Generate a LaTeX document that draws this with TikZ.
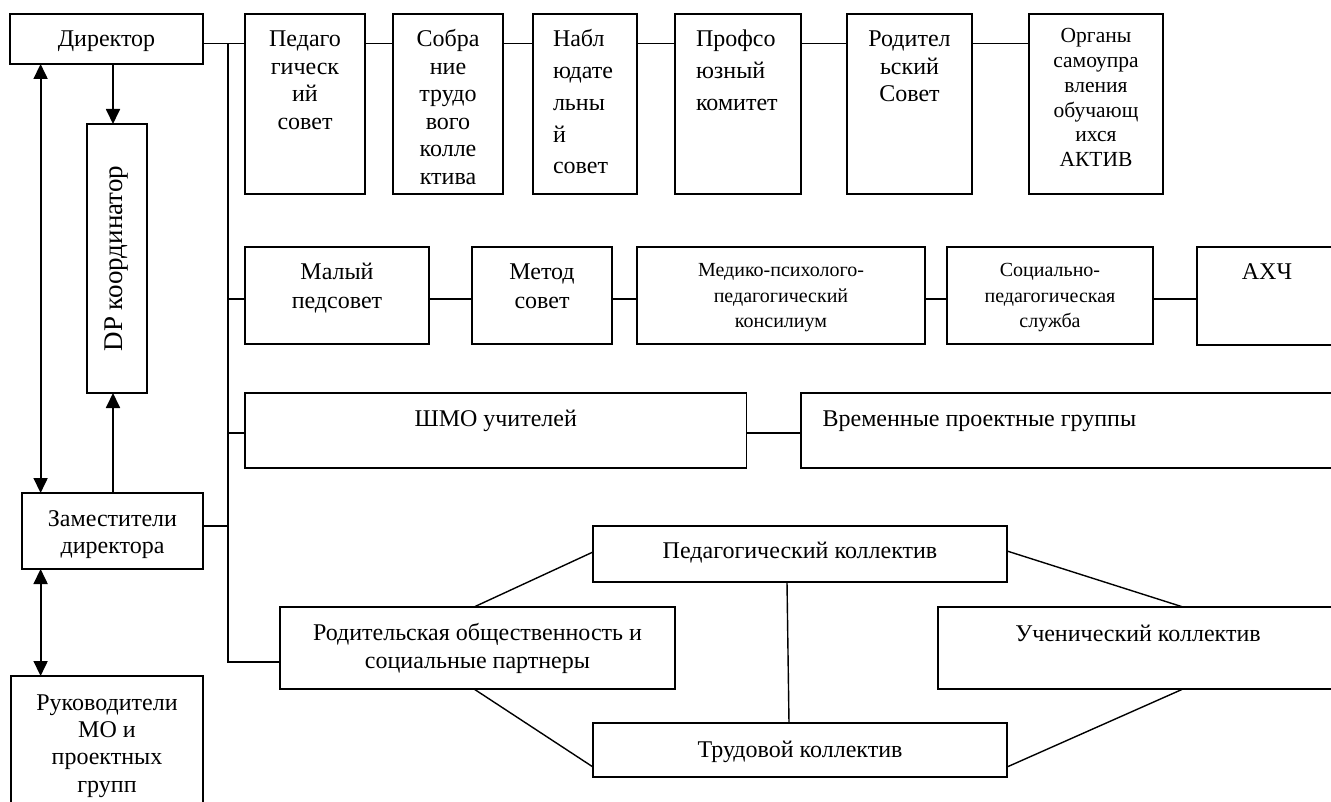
\documentclass[tikz,border=0pt]{standalone}
\usepackage{fontspec}
\setmainfont{Liberation Serif}
\usetikzlibrary{arrows.meta}
\newcommand{\bt}[5]{\parbox[c][#1][t]{#2}{#4\rule{0pt}{#3}#5}}
\tikzset{
  bx/.style={draw, line width=1.8pt, inner sep=0pt, outer sep=0pt, fill=white,
    font=\fontsize{24pt}{27.5pt}\selectfont},
  ln/.style={line width=1.8pt},
  dl/.style={line width=1.4pt},
  arr/.style={line width=1.8pt, -{Triangle[length=15pt,width=14pt]}},
  arrb/.style={line width=1.8pt, {Triangle[length=15pt,width=14pt]}-{Triangle[length=15pt,width=14pt]}},
}
\begin{document}
\begin{tikzpicture}[x=1pt,y=-1pt]
\useasboundingbox (0,0) rectangle (1331,802);
\clip (0,0) rectangle (1331,802);
\fill[white] (0,0) rectangle (1331,802);
% top row
\node[bx] (dir) at (106.5,39) {\bt{50pt}{193pt}{33pt}{\centering}{Директор}};
\node[bx] (ps) at (305,104) {\bt{180pt}{120pt}{33pt}{\centering}{Педаго\\гическ\\ий\\совет}};
\node[bx] (sob) at (448,104) {\bt{180pt}{110pt}{33pt}{\centering}{Собра\\ние\\трудо\\вого\\колле\\ктива}};
\node[bx] (nab) at (585,104) {\bt{180pt}{104pt}{33pt}{\raggedright\leftskip=20pt\fontsize{24pt}{31.7pt}\selectfont}{Набл\\юдате\\льны\\й\\совет}};
\node[bx] (prof) at (738,104) {\bt{180pt}{126pt}{33pt}{\raggedright\leftskip=21pt\fontsize{24pt}{31.7pt}\selectfont}{Профсо\\юзный\\комитет}};
\node[bx] (rod) at (909.5,104) {\bt{180pt}{125pt}{33pt}{\centering}{Родител\\ьский\\Совет}};
\node[bx] (org) at (1096,104) {\bt{180pt}{134pt}{29pt}{\centering\fontsize{21.5pt}{24.7pt}\selectfont}{Органы\\самоупра\\вления\\обучающ\\ихся\\АКТИВ}};
% second row
\node[bx] (mal) at (337,295.5) {\bt{97pt}{184pt}{33pt}{\centering\fontsize{24pt}{28pt}\selectfont}{Малый\\педсовет}};
\node[bx] (met) at (542,295.5) {\bt{97pt}{140pt}{33pt}{\centering\fontsize{24pt}{28pt}\selectfont}{Метод\\совет}};
\node[bx] (med) at (781,295.5) {\bt{97pt}{288pt}{30pt}{\centering\fontsize{20pt}{25.5pt}\selectfont}{Медико-психолого-\\педагогический\\консилиум}};
\node[bx] (soc) at (1050,295.5) {\bt{97pt}{206pt}{30pt}{\centering\fontsize{20pt}{25.5pt}\selectfont}{Социально-\\педагогическая\\служба}};
\node[bx] (axch) at (1267,296) {\bt{98pt}{140pt}{33pt}{\centering}{АХЧ}};
% third row
\node[bx] (shmo) at (495.75,430.5) {\bt{75pt}{501.5pt}{33pt}{\centering}{ШМО учителей}};
\node[bx] (vrem) at (1081,430.5) {\bt{75pt}{560pt}{33pt}{\raggedright\leftskip=21.6pt}{Временные проектные группы}};
% left column
\node[bx, minimum width=60pt, minimum height=269pt] (dp) at (117,258.5) {\rotatebox{90}{\fontsize{27pt}{30pt}\selectfont DP координатор}};
\node[bx] (zam) at (112.5,531) {\bt{76pt}{181pt}{33pt}{\centering\fontsize{24pt}{27pt}\selectfont}{Заместители\\директора}};
\node[bx] (ruk) at (107,758) {\bt{164pt}{192pt}{34pt}{\centering\fontsize{24pt}{27.4pt}\selectfont}{Руководители\\МО и\\проектных\\групп}};
% bottom group
\node[bx] (rp) at (477.5,648) {\bt{82pt}{395pt}{33pt}{\centering\fontsize{24pt}{28pt}\selectfont}{Родительская общественность и\\социальные партнеры}};
\node[bx] (pk) at (800,554) {\bt{56pt}{414pt}{32pt}{\centering}{Педагогический коллектив}};
\node[bx] (tk) at (800,750) {\bt{54pt}{414pt}{34pt}{\centering}{Трудовой коллектив}};
\node[bx] (uk) at (1138,648) {\bt{82pt}{400pt}{34pt}{\centering}{Ученический коллектив}};
% bus
\coordinate (b0) at (228,43.5);
\coordinate (r2) at (228,299);
\coordinate (r3) at (228,433);
\coordinate (r4) at (228,526);
\coordinate (b4) at (228,662);
\draw[ln] (dir.east |- b0) -- (ps.west |- b0);
\draw[ln] (b0) -- (b4) -- (rp.west |- b4);
\draw[ln] (ps.east |- b0) -- (sob.west |- b0);
\draw[ln] (sob.east |- b0) -- (nab.west |- b0);
\draw[ln] (nab.east |- b0) -- (prof.west |- b0);
\draw[ln] (prof.east |- b0) -- (rod.west |- b0);
\draw[ln] (rod.east |- b0) -- (org.west |- b0);
\draw[ln] (r2) -- (mal.west |- r2);
\draw[ln] (mal.east |- r2) -- (met.west |- r2);
\draw[ln] (met.east |- r2) -- (med.west |- r2);
\draw[ln] (med.east |- r2) -- (soc.west |- r2);
\draw[ln] (soc.east |- r2) -- (axch.west |- r2);
\draw[ln] (r3) -- (shmo.west |- r3);
\draw[ln] (shmo.east |- r3) -- (vrem.west |- r3);
\draw[ln] (zam.east |- r4) -- (r4);
% arrows
\coordinate (a1) at (113,0);
\coordinate (a2) at (40.6,0);
\draw[arr] (dir.south -| a1) -- (dp.north -| a1);
\draw[arr] (zam.north -| a1) -- (dp.south -| a1);
\draw[arrb] (dir.south -| a2) -- (zam.north -| a2);
\draw[arrb] (zam.south -| a2) -- (ruk.north -| a2);
% bottom connectors
\draw[dl] ([xshift=-3.5pt]rp.north) -- ([yshift=2pt]pk.west);
\draw[dl] ([xshift=-3.5pt]rp.south) -- ([yshift=-17pt]tk.west);
\draw[dl] ([xshift=-13pt]pk.south) -- ([xshift=-11pt]tk.north);
\draw[dl] ([yshift=3pt]pk.east) -- ([xshift=45pt]uk.north);
\draw[dl] ([xshift=45pt]uk.south) -- ([yshift=-17pt]tk.east);
\end{tikzpicture}
\end{document}
